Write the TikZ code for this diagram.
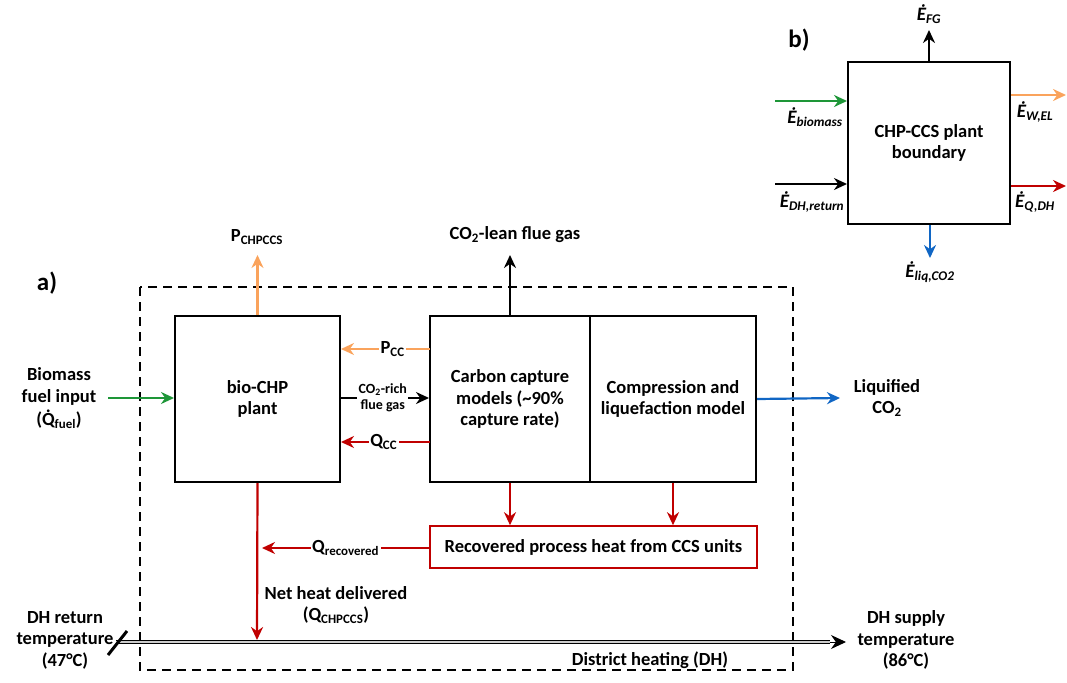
\documentclass[tikz,border=0pt]{standalone}
\usepackage{fontspec}
\setmainfont{Carlito}
\usetikzlibrary{arrows.meta}
\definecolor{cgreen}{RGB}{30,150,56}
\definecolor{corange}{RGB}{250,163,92}
\definecolor{cred}{RGB}{192,0,0}
\definecolor{cblue}{RGB}{16,102,196}
\newcommand\sbs[1]{\textsubscript{#1}}
\newcommand\dotQ{\ooalign{Q\cr\hidewidth\smash{\raisebox{0.68em}{.}}\hidewidth\cr}}
\begin{document}
\begin{tikzpicture}[x=1pt,y=-1pt,
  every node/.style={font=\bfseries\fontsize{18.5}{21.5}\selectfont, align=center, inner sep=1pt},
  blk/.style={draw, line width=2pt, inner sep=0pt},
  arr/.style={line width=2.2pt, -{Stealth[length=13pt,width=12pt]}},
  lbl/.style={fill=white, text=black, inner sep=1.5pt},
  small/.style={font=\bfseries\fontsize{14}{16}\selectfont},
  blab/.style={font=\bfseries\itshape\fontsize{19}{21}\selectfont}]
\useasboundingbox (0,0) rectangle (1067,682);

% dashed boundary
\draw[line width=2pt, dash pattern=on 9pt off 6pt] (140,287) rectangle (793,670);

% blocks
\node[blk, minimum width=165pt, minimum height=166pt] (chp) at (257.5,399) {bio-CHP\\plant};
\node[blk, minimum width=160pt, minimum height=166pt] (cc) at (510,399) {Carbon capture\\models (\textasciitilde90\%\\capture rate)};
\node[blk, minimum width=166pt, minimum height=166pt] (comp) at (673,399) {Compression and\\liquefaction model};
\node[blk, draw=cred, line width=1.6pt, minimum width=327pt, minimum height=42pt] (rec) at (593.5,547) {Recovered process heat from CCS units};

% outputs at top
\node (pchp) at (257,237) {P\sbs{CHPCCS}};
\node (lean) at (515,235) {CO\sbs{2}-lean flue gas};
\draw[arr, corange] (chp.north) -- (chp.north |- 0,255);
\draw[arr, black] (cc.north) -- (cc.north |- 0,255);

% between chp and cc
\coordinate (pccs) at (430,349);
\coordinate (fgs) at (340,398);
\coordinate (qccs) at (430,442);
\draw[arr, corange] (pccs) -- (chp.east |- pccs) node[lbl, pos=0.42] {P\sbs{CC}};
\draw[arr, black] (fgs) -- (cc.west |- fgs) node[lbl, small, pos=0.48] {CO\sbs{2}-rich\\flue gas};
\draw[arr, cred] (qccs) -- (chp.east |- qccs) node[lbl, pos=0.52] {Q\sbs{CC}};

% biomass input
\node[font=\bfseries\fontsize{18.5}{22.5}\selectfont] (bio) at (59,398) {Biomass\\fuel input\\(\dotQ\sbs{fuel})};
\coordinate (bios) at (108,398);
\draw[arr, cgreen] (bios) -- (chp.west |- bios);

% liquified CO2
\node (liq) at (887,398) {Liquified\\CO\sbs{2}};
\draw[arr, cblue] (comp.east) -- (840,398);

% heat recovery
\draw[arr, cred] (cc.south) -- (cc.south |- rec.north);
\draw[arr, cred] (comp.south) -- (comp.south |- rec.north);
\coordinate (qrecend) at (262,548);
\draw[arr, cred] (rec.west |- qrecend) -- (qrecend) node[lbl, pos=0.5] {Q\sbs{recovered}};

% net heat delivered
\coordinate (dhmid) at (257,640);
\draw[arr, cred] (chp.south) -- (dhmid);
\node (net) at (336,605) {Net heat delivered\\(Q\sbs{CHPCCS})};

% district heating line
\coordinate (dhstart) at (116,642);
\coordinate (dhend) at (830,642);
\coordinate (dhtip) at (846,642);
\draw[double=gray!40, double distance=2pt, line width=1.1pt] (dhstart) -- (dhend);
\draw[line width=1pt, -{Stealth[length=15pt,width=14pt]}] (dhend) -- (dhtip);
\draw[line width=3pt] (108,655) -- (127,631);
\node (ret) at (65,640) {DH return\\temperature\\(47°C)};
\node (sup) at (906,640) {DH supply\\temperature\\(86°C)};
\node (dh) at (650,660) {District heating (DH)};

\node[font=\bfseries\fontsize{25}{28}\selectfont] (la) at (47,283) {a)};

% panel b
\node[font=\bfseries\fontsize{25}{28}\selectfont] (lb) at (799,40) {b)};
\node[blk, minimum width=162pt, minimum height=162pt] (bnd) at (929,143) {CHP-CCS plant\\boundary};
\draw[arr, black] (bnd.north) -- (929,30);
\node[blab] (efg) at (929,14) {\.{E}\sbs{FG}};
\coordinate (bms) at (775,101);
\draw[arr, cgreen] (bms) -- (bnd.west |- bms);
\node[blab] (ebm) at (815,117) {\.{E}\sbs{biomass}};
\coordinate (dhr) at (775,184);
\draw[arr, black] (dhr) -- (bnd.west |- dhr);
\node[blab] (edh) at (812,202) {\.{E}\sbs{DH,return}};
\coordinate (wel) at (1066,95);
\draw[arr, corange] (bnd.east |- wel) -- (wel);
\node[blab] (ewel) at (1035,112) {\.{E}\sbs{W,EL}};
\coordinate (qdh) at (1066,186);
\draw[arr, cred] (bnd.east |- qdh) -- (qdh);
\node[blab] (eqdh) at (1035,202) {\.{E}\sbs{Q,DH}};
\coordinate (lq) at (930,258);
\draw[arr, cblue] (bnd.south -| lq) -- (lq);
\node[blab] (eliq) at (930,272) {\.{E}\sbs{liq,CO2}};
\end{tikzpicture}
\end{document}
